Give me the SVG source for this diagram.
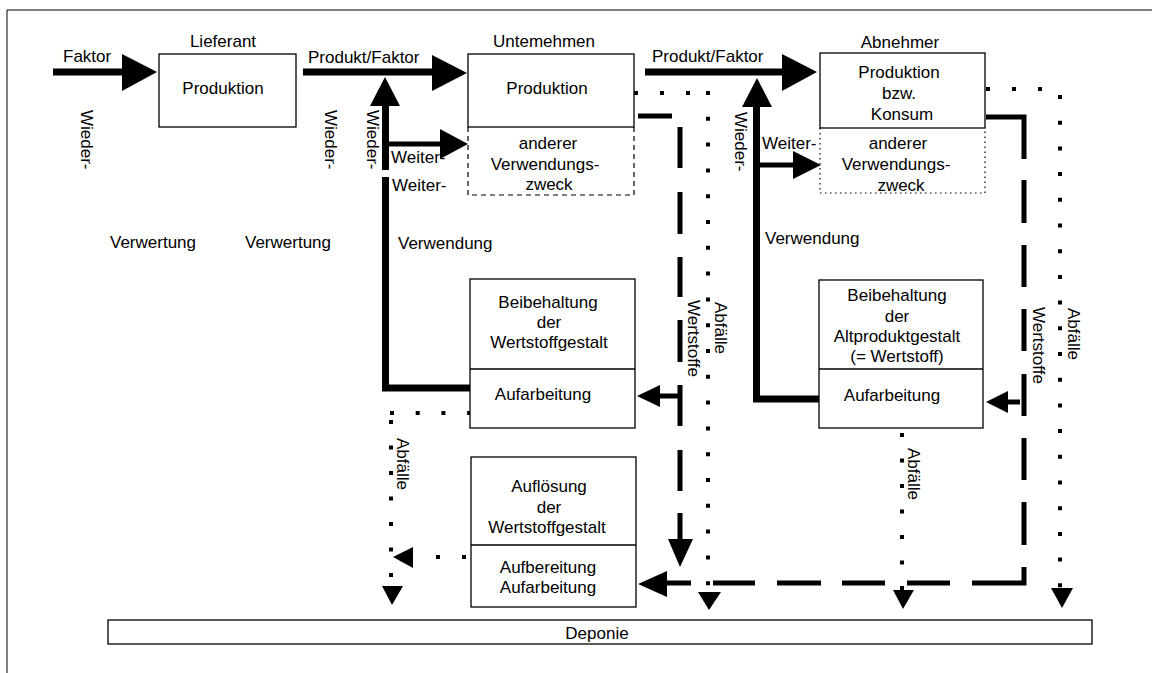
<svg xmlns="http://www.w3.org/2000/svg" width="1152" height="673" viewBox="0 0 1152 673">
<style>
  text { font-family: "Liberation Sans", Arial, sans-serif; font-size: 17px; fill: #000; }
  .c { text-anchor: middle; }
  .box { fill: #fff; stroke: #000; stroke-width: 1.3; }
  .frame { fill: none; stroke: #000; stroke-width: 1; }
  .thick { fill: none; stroke: #000; stroke-width: 7; }
  .mid { fill: none; stroke: #000; stroke-width: 5; }
  .dash { fill: none; stroke: #000; stroke-width: 5; }
  .dot { fill: none; stroke: #000; stroke-width: 4; }
  .head { fill: #000; stroke: none; }
  .dashedbox { fill: none; stroke: #000; stroke-width: 1.2; stroke-dasharray: 5 4; }
  .dottedbox { fill: none; stroke: #000; stroke-width: 1.2; stroke-dasharray: 1.5 3.5; }
</style>
<rect x="0" y="0" width="1152" height="673" fill="#fff"/>
<g id="frame">
  <path class="frame" d="M7,673 V10 H1152"/>
</g>

<g id="connectors">
  <!-- Faktor -->
  <line class="thick" x1="53" y1="72" x2="125" y2="72"/>
  <polygon class="head" points="122,54 157,72 122,91"/>
  <!-- Produkt/Faktor 1 -->
  <line class="thick" x1="303" y1="72" x2="435" y2="72"/>
  <polygon class="head" points="432,55 467,73 432,91"/>
  <!-- Produkt/Faktor 2 -->
  <line class="thick" x1="645" y1="72" x2="785" y2="72"/>
  <polygon class="head" points="782,54 817,72 782,91"/>
  <!-- Wieder-Verwendung Unternehmen -->
  <polygon class="head" points="370,106 385,77 400,106"/>
  <line class="thick" x1="385.5" y1="104" x2="385.5" y2="170"/>
  <path class="thick" d="M385.5,177 V388 H470"/>
  <line class="mid" x1="385" y1="144" x2="442" y2="144"/>
  <polygon class="head" points="440,129 468,144 440,159"/>
  <!-- Wieder-Verwendung Abnehmer -->
  <polygon class="head" points="742,107 757,78 772,107"/>
  <path class="thick" d="M756.5,105 V399 H819"/>
  <line class="mid" x1="756" y1="165" x2="795" y2="165"/>
  <polygon class="head" points="793,151 821,165 793,179"/>

  <!-- Wertstoffe Unternehmen (dashed) -->
  <line class="dash" x1="638" y1="116" x2="672" y2="116"/>
  <line class="dash" x1="680" y1="127" x2="680" y2="168"/>
  <line class="dash" x1="680" y1="192" x2="680" y2="234"/>
  <line class="dash" x1="680" y1="257" x2="680" y2="297"/>
  <line class="dash" x1="680" y1="320" x2="680" y2="362"/>
  <line class="dash" x1="680" y1="385" x2="680" y2="426"/>
  <line class="dash" x1="680" y1="450" x2="680" y2="491"/>
  <line class="dash" x1="680" y1="513" x2="680" y2="542"/>
  <polygon class="head" points="668,539 693,539 680,567"/>
  <line class="mid" x1="658" y1="396" x2="680" y2="396"/>
  <polygon class="head" points="637,396 660,385 660,407"/>

  <!-- Wertstoffe Abnehmer (dashed) -->
  <path class="dash" d="M986,117 H1024 V159"/>
  <line class="dash" x1="1024" y1="180" x2="1024" y2="223"/>
  <line class="dash" x1="1024" y1="245" x2="1024" y2="287"/>
  <line class="dash" x1="1024" y1="309" x2="1024" y2="351"/>
  <line class="dash" x1="1024" y1="374" x2="1024" y2="416"/>
  <line class="dash" x1="1024" y1="438" x2="1024" y2="480"/>
  <line class="dash" x1="1024" y1="502" x2="1024" y2="545"/>
  <path class="dash" d="M1024,567 V583 H1015"/>
  <line class="dash" x1="1015" y1="583" x2="972" y2="583"/>
  <line class="dash" x1="950" y1="583" x2="907" y2="583"/>
  <line class="dash" x1="885" y1="583" x2="842" y2="583"/>
  <line class="dash" x1="821" y1="583" x2="777" y2="583"/>
  <line class="dash" x1="755" y1="583" x2="713" y2="583"/>
  <line class="mid" x1="666" y1="583" x2="691" y2="583"/>
  <polygon class="head" points="638,584 667,571 667,597"/>
  <line class="mid" x1="1006" y1="402" x2="1020" y2="402"/>
  <polygon class="head" points="986,402 1008,391 1008,413"/>

  <!-- Abfaelle Unternehmen (dotted) -->
  <path class="dot" d="M634,93 H690" stroke-dasharray="4 22"/>
  <path class="dot" d="M708,91 V587" stroke-dasharray="4 21.8"/>
  <polygon class="head" points="698,592 721,592 709,610"/>
  <!-- Abfaelle Abnehmer (dotted) -->
  <path class="dot" d="M986,89 H1042" stroke-dasharray="4 22"/>
  <path class="dot" d="M1060,95 V588" stroke-dasharray="4 21.7"/>
  <polygon class="head" points="1051,588 1073,588 1062,608"/>
  <!-- Abfaelle Aufarbeitung Unternehmen -->
  <path class="dot" d="M390,413 H471" stroke-dasharray="4 21.7"/>
  <path class="dot" d="M391,420 V578" stroke-dasharray="4 21.5"/>
  <polygon class="head" points="382,586 403,586 392,605"/>
  <!-- Abfaelle Aufloesung -->
  <path class="dot" d="M436,557 H466" stroke-dasharray="4 22"/>
  <polygon class="head" points="393,557 413,547 413,568"/>
  <!-- Abfaelle Aufarbeitung Abnehmer -->
  <path class="dot" d="M902,433 V590" stroke-dasharray="4 21.5"/>
  <polygon class="head" points="893,590 914,590 903,609"/>
</g>

<g id="labels">
  <text x="63" y="62">Faktor</text>
  <text x="308" y="63">Produkt/Faktor</text>
  <text x="652" y="62">Produkt/Faktor</text>
  <text transform="translate(81,110) rotate(90)">Wieder-</text>
  <text transform="translate(325,110) rotate(90)">Wieder-</text>
  <text transform="translate(367,110) rotate(90)">Wieder-</text>
  <text transform="translate(735,112) rotate(90)">Wieder-</text>
  <text x="110" y="248">Verwertung</text>
  <text x="245" y="248">Verwertung</text>
  <text x="391" y="163">Weiter-</text>
  <text x="392" y="191">Weiter-</text>
  <text x="398" y="249">Verwendung</text>
  <text x="762" y="149">Weiter-</text>
  <text x="765" y="244">Verwendung</text>
  <text transform="translate(688,300) rotate(90)">Wertstoffe</text>
  <text transform="translate(715,302) rotate(90)">Abfälle</text>
  <text transform="translate(1033,307) rotate(90)">Wertstoffe</text>
  <text transform="translate(1068,308) rotate(90)">Abfälle</text>
  <text transform="translate(397,438) rotate(90)">Abfälle</text>
  <text transform="translate(908,448) rotate(90)">Abfälle</text>
</g>

<g id="lieferant">
  <text class="c" x="223" y="47">Lieferant</text>
  <rect class="box" x="159" y="54" width="137" height="73"/>
  <text class="c" x="223" y="94">Produktion</text>
</g>

<g id="unternehmen">
  <text class="c" x="544" y="47">Untemehmen</text>
  <rect class="box" x="468" y="54" width="166" height="73"/>
  <text class="c" x="547" y="94">Produktion</text>
  <path class="dashedbox" d="M468,127 V195 H634 V127"/>
  <text class="c" x="548" y="149">anderer</text>
  <text class="c" x="545" y="170">Verwendungs-</text>
  <text class="c" x="549" y="190">zweck</text>
</g>

<g id="abnehmer">
  <text class="c" x="900" y="48">Abnehmer</text>
  <rect class="box" x="820" y="53" width="165" height="75"/>
  <text class="c" x="899" y="78">Produktion</text>
  <text class="c" x="899" y="99">bzw.</text>
  <text class="c" x="902" y="120">Konsum</text>
  <path class="dottedbox" d="M820,128 V193 H985 V128"/>
  <text class="c" x="898" y="149">anderer</text>
  <text class="c" x="896" y="170">Verwendungs-</text>
  <text class="c" x="901" y="191">zweck</text>
</g>

<g id="beibehaltung-wertstoff">
  <rect class="box" x="470" y="279" width="165" height="149"/>
  <line class="box" x1="470" y1="369" x2="635" y2="369"/>
  <text class="c" x="548" y="308">Beibehaltung</text>
  <text class="c" x="549" y="328">der</text>
  <text class="c" x="549" y="348">Wertstoffgestalt</text>
  <text class="c" x="543" y="400">Aufarbeitung</text>
</g>

<g id="beibehaltung-altprodukt">
  <rect class="box" x="819" y="280" width="164" height="148"/>
  <line class="box" x1="819" y1="369" x2="983" y2="369"/>
  <text class="c" x="897" y="301">Beibehaltung</text>
  <text class="c" x="897" y="322">der</text>
  <text class="c" x="897" y="342">Altproduktgestalt</text>
  <text class="c" x="897" y="362">(= Wertstoff)</text>
  <text class="c" x="892" y="401">Aufarbeitung</text>
</g>

<g id="aufloesung">
  <rect class="box" x="471" y="457" width="165" height="150"/>
  <line class="box" x1="471" y1="545" x2="636" y2="545"/>
  <text class="c" x="549" y="492">Auflösung</text>
  <text class="c" x="549" y="513">der</text>
  <text class="c" x="547" y="533">Wertstoffgestalt</text>
  <text class="c" x="548" y="573">Aufbereitung</text>
  <text class="c" x="548" y="593">Aufarbeitung</text>
</g>

<g id="deponie">
  <rect class="box" x="108" y="620" width="984" height="24"/>
  <text class="c" x="597" y="639">Deponie</text>
</g>
</svg>
